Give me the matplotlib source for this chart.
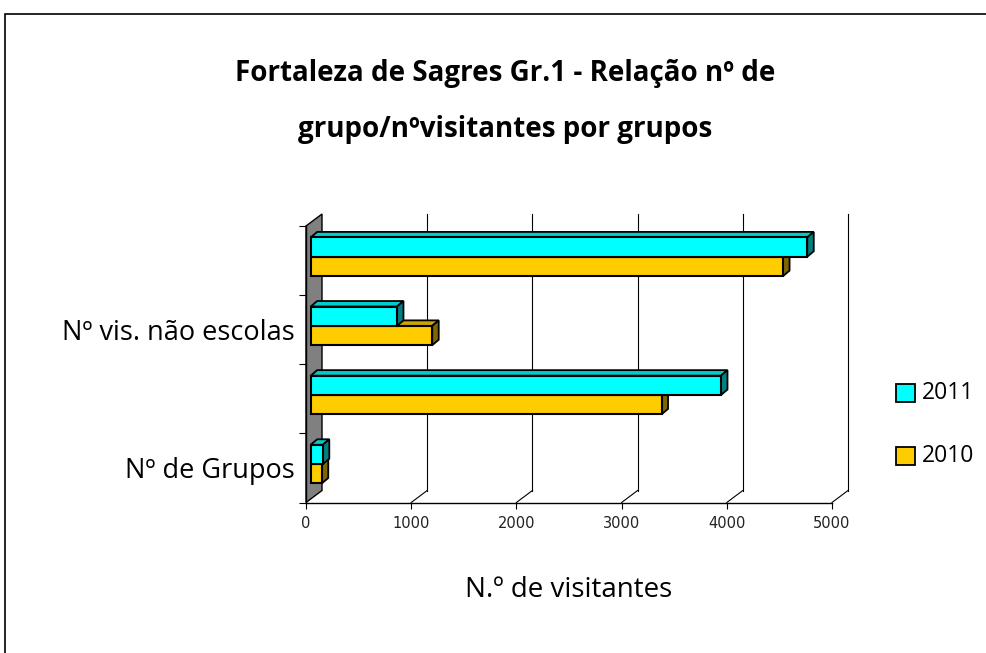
import matplotlib
matplotlib.use('Agg')
import matplotlib.pyplot as plt
from matplotlib.patches import Polygon, Rectangle

# data
categories = ["Nº de Grupos", "Nº vis. escolas", "Nº vis. não escolas", "Total visitantes"]
shown_labels = ["Nº de Grupos", "", "Nº vis. não escolas", ""]
series_names = ["2011", "2010"]
values_2011 = [115, 3900, 820, 4720]
values_2010 = [105, 3335, 1155, 4490]
x_ticks = [0, 1000, 2000, 3000, 4000, 5000]

W, H = 986, 653
fig = plt.figure(figsize=(W / 100, H / 100), dpi=100)

# plot area in pixels (front plane)
px0, px1 = 306, 832
py_top, py_bot = 226, 502.5
ax = fig.add_axes([px0 / W, (H - py_bot) / H, (px1 - px0) / W, (py_bot - py_top) / H])
ax.set_xlim(0, 5000)
ax.set_ylim(0, len(categories))

ux = 5000 / (px1 - px0)          # data units per pixel
uy = len(categories) / (py_bot - py_top)

# depth of the 3d box
dX, dY = 16 * ux, 12 * uy
ntop = len(categories)

# back wall
wall = Polygon([(0, 0), (dX, dY), (dX, ntop + dY), (0, ntop)], closed=True,
               facecolor='#808080', edgecolor='black', lw=1, clip_on=False, zorder=1)
ax.add_patch(wall)

# gridlines on the back plane + floor diagonals
for xv in x_ticks[1:]:
    ax.plot([xv + dX, xv + dX], [dY, ntop + dY], color='black', lw=0.8, clip_on=False, zorder=1)
    ax.plot([xv, xv + dX], [0, dY], color='black', lw=0.8, clip_on=False, zorder=1)

# 3d bars
bx = 4.7 * ux
ddx, ddy = 6.5 * ux, 5.5 * uy
bar_h = 0.28


def bar3d(y0, v, face, top, side):
    x0 = bx
    x1 = bx + v
    y1 = y0 + bar_h
    ax.add_patch(Polygon([(x0, y1), (x1, y1), (x1 + ddx, y1 + ddy), (x0 + ddx, y1 + ddy)],
                         facecolor=top, edgecolor='black', lw=1.3, clip_on=False, zorder=3))
    ax.add_patch(Polygon([(x1, y0), (x1, y1), (x1 + ddx, y1 + ddy), (x1 + ddx, y0 + ddy)],
                         facecolor=side, edgecolor='black', lw=1.3, clip_on=False, zorder=3))
    ax.add_patch(Rectangle((x0, y0), v, bar_h, facecolor=face, edgecolor='black',
                           lw=1.5, clip_on=False, zorder=4))


for i in range(len(categories)):
    bar3d(i + 0.275, values_2010[i], '#FFCC00', '#CCA300', '#806600')
    bar3d(i + 0.555, values_2011[i], '#00FFFF', '#00CCCC', '#008080')

# axes styling
for s in ['top', 'right']:
    ax.spines[s].set_visible(False)
ax.spines['left'].set_linewidth(1)
ax.spines['bottom'].set_linewidth(1)
ax.spines['left'].set_zorder(5)
ax.set_xticks(x_ticks)
ax.set_xticklabels([str(t) for t in x_ticks], fontsize=10.5, color='#222222')
ax.tick_params(axis='x', length=4, width=0.8, pad=6)
ax.set_yticks(range(len(categories) + 1))
ax.set_yticklabels([])
ax.tick_params(axis='y', length=5, width=0.8)
ax.set_yticks([i + 0.5 for i in range(len(categories))], minor=True)
ax.set_yticklabels(shown_labels, minor=True, fontsize=19.5, family='Open Sans')
ax.tick_params(axis='y', which='minor', length=0, pad=8)
for lab in ax.get_yticklabels(minor=True):
    lab.set_y(lab.get_position()[1])
ax.patch.set_alpha(0)

# title and axis label
fig.text(505 / W, 1 - 73 / H, "Fortaleza de Sagres Gr.1 - Relação nº de", ha='center', va='center',
         fontsize=20, fontweight='bold', family='Open Sans')
fig.text(505 / W, 1 - 130 / H, "grupo/nºvisitantes por grupos", ha='center', va='center',
         fontsize=20, fontweight='bold', family='Open Sans')
fig.text(569 / W, 1 - 590 / H, "N.º de visitantes", ha='center', va='center',
         fontsize=20, family='Open Sans')

# legend drawn by hand
leg_colors = ['#00FFFF', '#FFCC00']
leg_y = [393, 456]
for name, c, yy in zip(series_names, leg_colors, leg_y):
    fig.patches.append(Rectangle((896 / W, 1 - (yy + 9) / H), 19 / W, 18 / H, facecolor=c,
                                 edgecolor='black', lw=1.3, transform=fig.transFigure))
    fig.text(922 / W, 1 - yy / H, name, ha='left', va='center', fontsize=16.5, family='Open Sans')

# outer frame
fig.patches.append(Rectangle((5 / W, -0.05), 1.1, 1 - 14 / H + 0.05, fill=False,
                             edgecolor='black', lw=1.2, transform=fig.transFigure))

fig.savefig('out.png', dpi=100)
